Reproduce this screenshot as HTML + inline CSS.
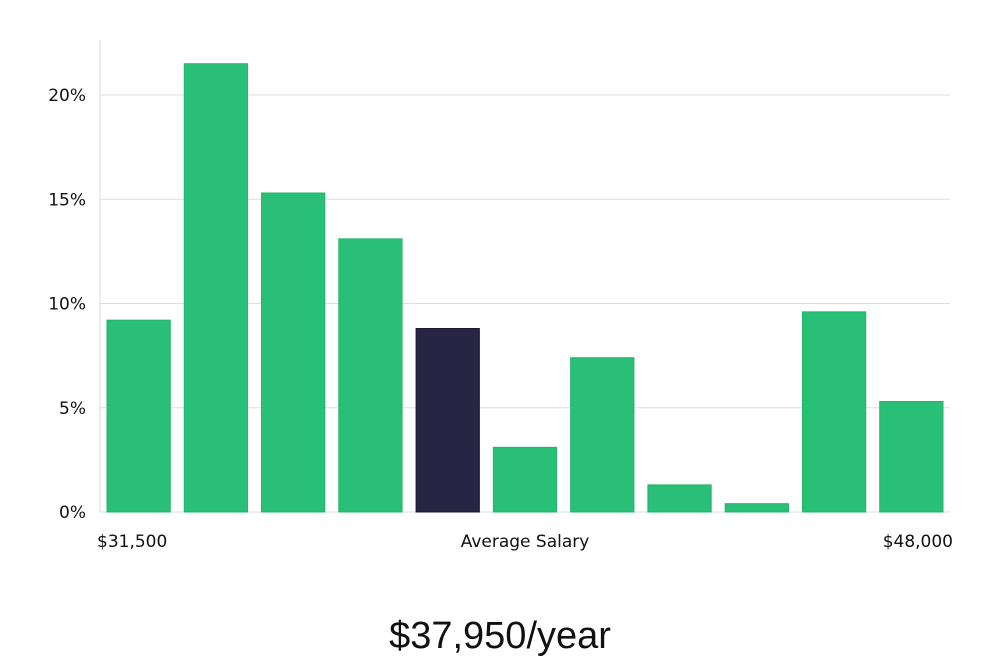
<!DOCTYPE html>
<html><head><meta charset="utf-8"><style>
html,body{margin:0;padding:0;background:#fff;width:1000px;height:660px;overflow:hidden}
text{font-family:"DejaVu Sans","Liberation Sans",sans-serif}
</style></head><body>
<svg id="chart" width="1000" height="660" xmlns="http://www.w3.org/2000/svg">
<g id="grid"></g><g id="bars"></g><g id="labels"></g>
<text x="500" y="648" text-anchor="middle" font-size="38" font-weight="300" fill="#111" style="font-family:'Liberation Sans',sans-serif">$37,950/year</text>
</svg>
<script>
const categories=["b1","b2","b3","b4","b5","b6","b7","b8","b9","b10","b11"];
const values=[9.2,21.5,15.3,13.1,8.8,3.1,7.4,1.3,0.4,9.6,5.3];
const highlight=[false,false,false,false,true,false,false,false,false,false,false];
const yTicks=[0,5,10,15,20];
const yTickLabels=["0%","5%","10%","15%","20%"];
const xLabels=["$31,500","Average Salary","$48,000"];
const NS="http://www.w3.org/2000/svg";
const L=100,R=950,Y0=512,PX=20.85;
const y=v=>Y0-v*PX;
const band=(R-L)/categories.length;
const x=i=>L+i*band;
function mk(t,a,p){const e=document.createElementNS(NS,t);for(const k in a)e.setAttribute(k,a[k]);p.appendChild(e);return e;}
const grid=document.getElementById('grid'),bars=document.getElementById('bars'),lab=document.getElementById('labels');
const ax=mk('line',{x1:L,x2:L,y1:40,y2:Y0,stroke:'#ddd'},grid);


yTicks.forEach((t,i)=>{
 const g=mk('line',{x1:L,x2:R,y1:y(t),y2:y(t),stroke:'#ddd'},grid);
 
 
 const tk=mk('text',{x:86,y:y(t)+6,'text-anchor':'end','font-size':17,fill:'#111'},lab);
 tk.textContent=yTickLabels[i];
 
 
});
values.forEach((v,i)=>{
 const r=mk('rect',{x:x(i)+7,y:y(v),width:band-14,height:Y0-y(v),fill:highlight[i]?'#272444':'#2abf76',stroke:highlight[i]?'#1a1830':'#22b56c','stroke-width':1},bars);
 
 
});
const xs=[[97,'start'],[525,'middle'],[953,'end']];
xLabels.forEach((s,i)=>{
 const t=mk('text',{x:xs[i][0],y:547,'text-anchor':xs[i][1],'font-size':17,fill:'#111'},lab);
 t.textContent=s;
 
 
});
</script>
</body></html>
